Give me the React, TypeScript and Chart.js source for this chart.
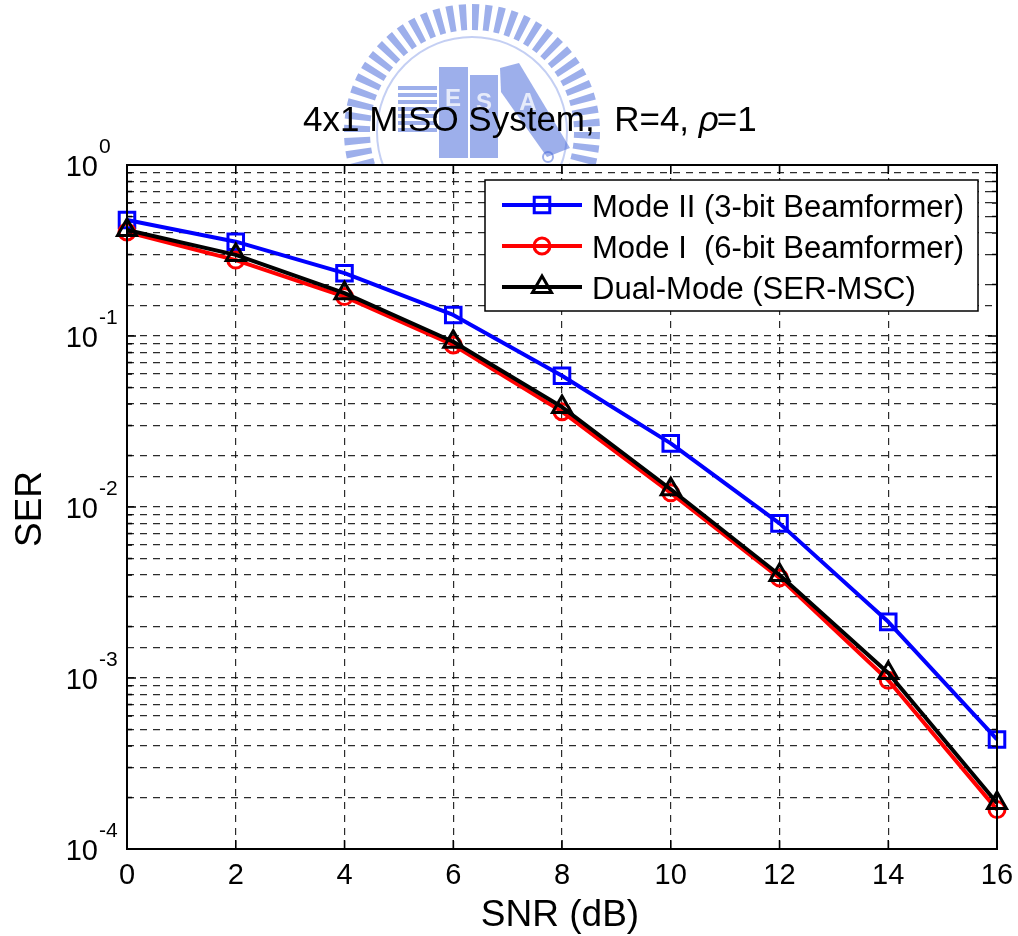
import React, { useEffect, useRef } from "react";
import { Chart, registerables } from "chart.js";
import { drawPoint } from "chart.js/helpers";

Chart.register(...registerables);

// SER versus SNR for the three beamforming schemes
const snrDb = [0, 2, 4, 6, 8, 10, 12, 14, 16];
const serModeII = [0.477, 0.356, 0.233, 0.1327, 0.0586, 0.02355, 0.00802, 0.00213, 0.000437];
const serModeI = [0.406, 0.278, 0.17, 0.0886, 0.0361, 0.0121, 0.00385, 0.00097, 0.00017];
const serDualMode = [0.417, 0.298, 0.178, 0.0926, 0.0384, 0.0127, 0.004, 0.00107, 0.000186];

const xTickValues = [0, 2, 4, 6, 8, 10, 12, 14, 16];
const yDecadeExponents = [0, -1, -2, -3, -4];

const legendLabels = [
  "Mode II (3-bit Beamformer)",
  "Mode I  (6-bit Beamformer)",
  "Dual-Mode (SER-MSC)",
];
const seriesColors = ["#0000ff", "#ff0000", "#000000"];
const seriesMarkers = ["rect", "circle", "triangle"];
const seriesMarkerRadius = [11, 8, 11];

const FONT = '"Liberation Sans", Arial, Helvetica, sans-serif';

// faint emblem behind the title area
function drawEmblem(ctx: CanvasRenderingContext2D) {
  const cx = 472, cy = 132, rOut = 128, rIn = 102;
  const blue = "rgba(60,95,215,0.5)";
  ctx.save();
  ctx.fillStyle = blue;
  const n = 60;
  for (let i = 0; i < n; i++) {
    const a0 = (i / n) * Math.PI * 2;
    const a1 = a0 + ((Math.PI * 2) / n) * 0.55;
    ctx.beginPath();
    ctx.arc(cx, cy, rOut, a0, a1);
    ctx.arc(cx, cy, rIn, a1, a0, true);
    ctx.closePath();
    ctx.fill();
  }
  ctx.strokeStyle = "rgba(60,95,215,0.3)";
  ctx.lineWidth = 2;
  ctx.beginPath();
  ctx.arc(cx, cy, 95, 0, Math.PI * 2);
  ctx.stroke();

  // striped block
  for (let k = 0; k < 7; k++) ctx.fillRect(398, 86 + k * 7, 39, 4);
  // lettered blocks
  ctx.fillRect(439, 67, 29, 91);
  ctx.fillRect(470, 75, 28, 83);
  ctx.beginPath();
  ctx.moveTo(500, 68);
  ctx.lineTo(519, 63);
  ctx.lineTo(570, 148);
  ctx.lineTo(547, 157);
  ctx.lineTo(501, 92);
  ctx.closePath();
  ctx.fill();
  ctx.fillStyle = "rgba(255,255,255,0.75)";
  ctx.font = `bold 24px ${FONT}`;
  ctx.textAlign = "center";
  ctx.fillText("E", 453, 106);
  ctx.fillText("S", 484, 110);
  ctx.fillText("A", 528, 110);
  ctx.strokeStyle = blue;
  ctx.lineWidth = 2;
  ctx.beginPath();
  ctx.arc(548, 157, 5, 0, Math.PI * 2);
  ctx.stroke();
  ctx.restore();
}

const emblemLayer = {
  id: "emblemLayer",
  beforeDraw(chart: any) {
    const { ctx, chartArea: a, width, height } = chart;
    ctx.save();
    ctx.beginPath();
    ctx.rect(0, 0, width, height);
    ctx.rect(a.left, a.top, a.right - a.left, a.bottom - a.top);
    ctx.clip("evenodd");
    drawEmblem(ctx);
    ctx.restore();
  },
};

const axesDecor = {
  id: "axesDecor",
  afterDatasetsDraw(chart: any) {
    const { ctx, chartArea: a, scales } = chart;
    const xs = scales.x;
    const ys = scales.y;
    ctx.save();

    // inward tick marks on all four sides
    ctx.strokeStyle = "#000";
    ctx.lineWidth = 1.5;
    ctx.beginPath();
    for (const v of xTickValues) {
      const px = xs.getPixelForValue(v);
      ctx.moveTo(px, a.bottom);
      ctx.lineTo(px, a.bottom - 9);
      ctx.moveTo(px, a.top);
      ctx.lineTo(px, a.top + 9);
    }
    for (const e of yDecadeExponents) {
      for (let m = 1; m <= 9; m++) {
        if (e === 0 && m > 1) continue;
        const py = ys.getPixelForValue(m * Math.pow(10, e));
        const len = m === 1 ? 9 : 5;
        ctx.moveTo(a.left, py);
        ctx.lineTo(a.left + len, py);
        ctx.moveTo(a.right, py);
        ctx.lineTo(a.right - len, py);
      }
    }
    ctx.stroke();

    // axes box
    ctx.lineWidth = 2;
    ctx.strokeRect(a.left, a.top, a.right - a.left, a.bottom - a.top);

    ctx.fillStyle = "#000";

    // x tick labels
    ctx.font = `29px ${FONT}`;
    ctx.textAlign = "center";
    ctx.textBaseline = "alphabetic";
    for (const v of xTickValues) {
      ctx.fillText(String(v), xs.getPixelForValue(v), a.bottom + 35);
    }

    // y tick labels: 10 with superscript exponent
    for (const e of yDecadeExponents) {
      const py = ys.getPixelForValue(Math.pow(10, e));
      ctx.font = `29px ${FONT}`;
      ctx.textAlign = "right";
      ctx.fillText("10", a.left - 29, py + 10.5);
      ctx.font = `21px ${FONT}`;
      ctx.textAlign = "left";
      ctx.fillText(String(e), a.left - 28, py - 12);
    }

    // axis titles
    ctx.font = `37px ${FONT}`;
    ctx.textAlign = "center";
    ctx.fillText("SNR (dB)", (a.left + a.right) / 2 - 2, 926);
    ctx.save();
    ctx.translate(41, (a.top + a.bottom) / 2 + 2);
    ctx.rotate(-Math.PI / 2);
    ctx.fillText("SER", 0, 0);
    ctx.restore();

    // title
    ctx.textAlign = "left";
    const tSize = 35;
    const part1 = "4x1 MISO System,  R=4, ";
    const rho = "\u03c1";
    const part3 = "=1";
    let tx = 303;
    const ty = 131;
    ctx.font = `${tSize}px ${FONT}`;
    ctx.fillText(part1, tx, ty);
    tx += ctx.measureText(part1).width;
    ctx.font = `italic ${tSize}px ${FONT}`;
    ctx.fillText(rho, tx, ty);
    tx += ctx.measureText(rho).width - 2;
    ctx.font = `${tSize}px ${FONT}`;
    ctx.fillText(part3, tx, ty);

    // legend
    const lx = 485, ly = 180, lw = 493, lh = 131;
    ctx.fillStyle = "#fff";
    ctx.fillRect(lx, ly, lw, lh);
    ctx.strokeStyle = "#000";
    ctx.lineWidth = 1.5;
    ctx.strokeRect(lx, ly, lw, lh);
    const rowY = [205, 246, 287];
    for (let i = 0; i < legendLabels.length; i++) {
      const y = rowY[i];
      ctx.strokeStyle = seriesColors[i];
      ctx.lineWidth = 4;
      ctx.beginPath();
      ctx.moveTo(502, y);
      ctx.lineTo(582, y);
      ctx.stroke();
      ctx.lineWidth = 3;
      ctx.fillStyle = "rgba(0,0,0,0)";
      drawPoint(ctx, { pointStyle: seriesMarkers[i], radius: seriesMarkerRadius[i], rotation: 0, borderWidth: 3 } as any, 542, y);
      ctx.fillStyle = "#000";
      ctx.font = `31px ${FONT}`;
      ctx.textAlign = "left";
      ctx.fillText(legendLabels[i], 592, y + 12);
    }

    ctx.restore();
  },
};

function makeDataset(label: string, values: number[], i: number, order: number) {
  return {
    label,
    data: snrDb.map((x, k) => ({ x, y: values[k] })),
    borderColor: seriesColors[i],
    backgroundColor: "rgba(0,0,0,0)",
    borderWidth: 4,
    borderJoinStyle: "round" as const,
    pointStyle: seriesMarkers[i],
    pointRadius: seriesMarkerRadius[i],
    pointBorderWidth: 3,
    pointBorderColor: seriesColors[i],
    pointBackgroundColor: "rgba(0,0,0,0)",
    tension: 0,
    clip: false as any,
    order,
  };
}

export default function App() {
  const canvasRef = useRef<HTMLCanvasElement | null>(null);

  useEffect(() => {
    if (!canvasRef.current) return;
    const gridColor = "rgba(20,20,20,0.9)";
    const chart = new Chart(canvasRef.current, {
      type: "line",
      data: {
        datasets: [
          makeDataset(legendLabels[0], serModeII, 0, 3),
          makeDataset(legendLabels[1], serModeI, 1, 2),
          makeDataset(legendLabels[2], serDualMode, 2, 1),
        ],
      },
      options: {
        animation: false,
        responsive: true,
        maintainAspectRatio: false,
        events: [],
        layout: { padding: { left: 127, right: 21, top: 165, bottom: 87 } },
        plugins: { legend: { display: false }, tooltip: { enabled: false }, title: { display: false } },
        scales: {
          x: {
            type: "linear",
            min: 0,
            max: 16,
            ticks: { display: false, stepSize: 2 },
            grid: { color: gridColor, lineWidth: 1.2, drawTicks: false },
            border: { display: false, dash: [7, 6] },
          },
          y: {
            type: "logarithmic",
            min: 1e-4,
            max: 1,
            ticks: { display: false },
            grid: { color: gridColor, lineWidth: 1.2, drawTicks: false },
            border: { display: false, dash: [7, 6] },
          },
        },
      },
      plugins: [emblemLayer, axesDecor],
    });
    return () => chart.destroy();
  }, []);

  return (
    <div style={{ position: "fixed", left: 0, top: 0, width: 1018, height: 936, background: "#fff" }}>
      <canvas ref={canvasRef} />
    </div>
  );
}
